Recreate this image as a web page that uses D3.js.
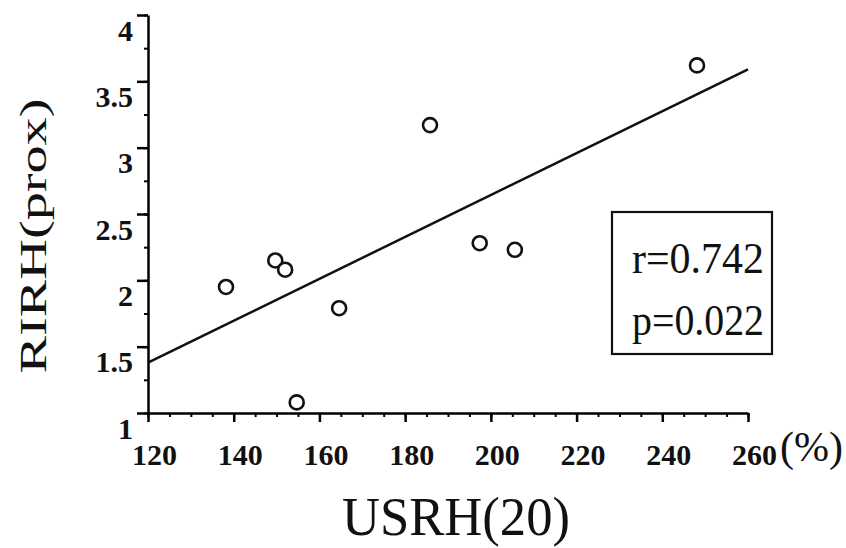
<!DOCTYPE html>
<html>
<head>
<meta charset="utf-8">
<script src="https://cdn.jsdelivr.net/npm/d3@7"></script>
<style>
  body { margin: 0; background: #fff; }
  svg text { font-family: "Liberation Serif", "DejaVu Serif", serif; fill: #111; }
</style>
</head>
<body>
<div id="chart"></div>
<script>
// data
const usrh = [138.2, 149.7, 152.0, 154.7, 164.6, 185.8, 197.4, 205.6, 248.1];
const rirh = [1.95, 2.15, 2.08, 1.08, 1.79, 3.17, 2.28, 2.23, 3.62];
const fitX = [120, 260];
const fitY = [1.38, 3.59];
const xTicks = [120, 140, 160, 180, 200, 220, 240, 260];
const yTicks = [1, 1.5, 2, 2.5, 3, 3.5, 4];
const statLines = ["r=0.742", "p=0.022"];

const W = 846, H = 548;
const svg = d3.select("#chart").append("svg")
  .attr("width", W).attr("height", H);

const x = d3.scaleLinear().domain([120, 260]).range([148, 748]);
const y = d3.scaleLinear().domain([1, 4]).range([413, 15]);

// X axis: minor then major ticks
svg.append("g")
  .attr("transform", `translate(0,${y(1)})`)
  .call(d3.axisBottom(x).tickValues(d3.range(120, 261, 5)).tickSize(4).tickFormat(""))
  .call(g => g.select(".domain").remove())
  .selectAll("line").attr("stroke-width", 2);

const xAxis = svg.append("g")
  .attr("transform", `translate(0,${y(1)})`)
  .call(d3.axisBottom(x).tickValues(xTicks).tickSize(9).tickSizeOuter(0).tickFormat(d3.format("d")));
xAxis.attr("font-family", null).attr("font-size", null);
xAxis.select(".domain").attr("stroke-width", 2.5);
xAxis.selectAll(".tick line").attr("stroke-width", 2.5);
xAxis.selectAll("text")
  .attr("x", 6).attr("y", 52).attr("dy", 0)
  .style("font-size", "30px").style("font-weight", "bold");

// Y axis: minor then major ticks
svg.append("g")
  .attr("transform", `translate(${x(120)},0)`)
  .call(d3.axisLeft(y).tickValues(d3.range(1, 4.01, 0.25)).tickSize(4).tickFormat(""))
  .call(g => g.select(".domain").remove())
  .selectAll("line").attr("stroke-width", 2);

const yAxis = svg.append("g")
  .attr("transform", `translate(${x(120)},0)`)
  .call(d3.axisLeft(y).tickValues(yTicks).tickSize(11).tickSizeOuter(0).tickFormat(d => d));
yAxis.attr("font-family", null).attr("font-size", null);
yAxis.select(".domain").attr("stroke-width", 2.5);
yAxis.selectAll(".tick line").attr("stroke-width", 2.5);
yAxis.selectAll("text")
  .attr("x", -15).attr("dy", 0).attr("y", 25)
  .style("font-size", "30px").style("font-weight", "bold");

// regression line
const line = d3.line().x(d => x(d[0])).y(d => y(d[1]));
svg.append("path")
  .datum(d3.zip(fitX, fitY))
  .attr("d", line)
  .attr("fill", "none")
  .attr("stroke", "#111")
  .attr("stroke-width", 2.5);

// points
svg.append("g")
  .selectAll("circle")
  .data(d3.zip(usrh, rirh))
  .join("circle")
  .attr("cx", d => x(d[0]))
  .attr("cy", d => y(d[1]))
  .attr("r", 7)
  .attr("fill", "#fff")
  .attr("stroke", "#111")
  .attr("stroke-width", 2.6);

// stats box
svg.append("rect")
  .attr("x", 612).attr("y", 212)
  .attr("width", 160).attr("height", 142)
  .attr("fill", "#fff")
  .attr("stroke", "#111")
  .attr("stroke-width", 2.2);

svg.append("g").selectAll("text")
  .data(statLines)
  .join("text")
  .attr("x", 632)
  .attr("y", (d, i) => 273 + i * 62)
  .attr("textLength", 132)
  .attr("lengthAdjust", "spacingAndGlyphs")
  .style("font-size", "44px")
  .text(d => d);

// axis titles
svg.append("text")
  .attr("x", 456).attr("y", 535)
  .attr("text-anchor", "middle")
  .attr("textLength", 228)
  .attr("lengthAdjust", "spacingAndGlyphs")
  .style("font-size", "54px")
  .text("USRH(20)");

svg.append("text")
  .attr("transform", "translate(46,236) rotate(-90)")
  .attr("text-anchor", "middle")
  .attr("textLength", 275)
  .attr("lengthAdjust", "spacingAndGlyphs")
  .style("font-size", "38px")
  .text("RIRH(prox)");

svg.append("text")
  .attr("x", 780).attr("y", 461)
  .style("font-size", "42px")
  .text("(%)");
</script>
</body>
</html>
